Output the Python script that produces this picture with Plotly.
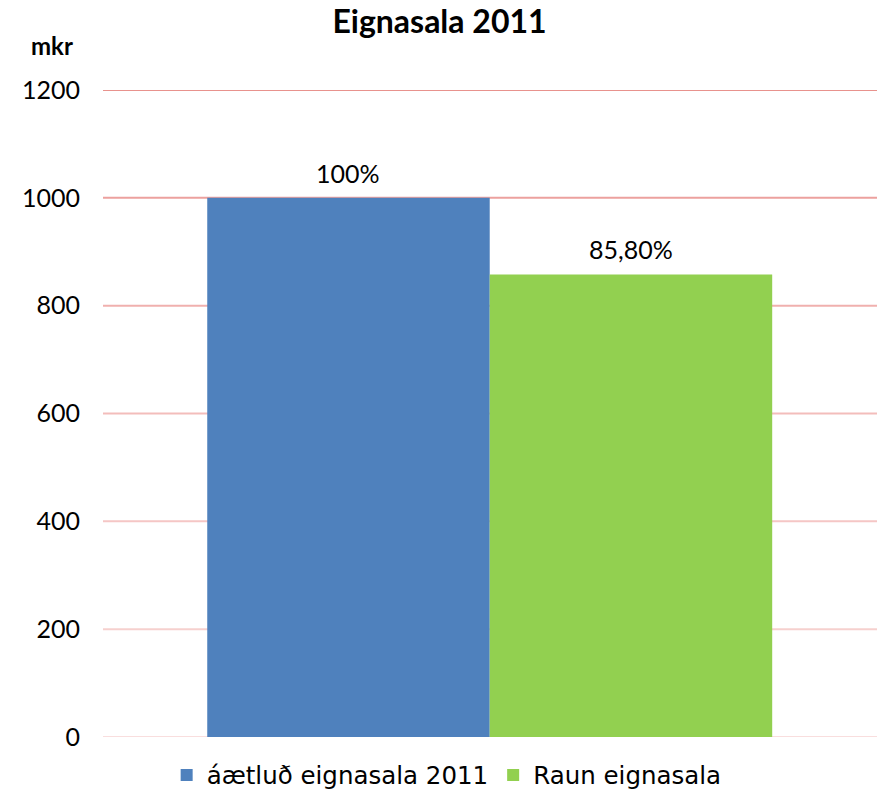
import plotly.graph_objects as go

title = "Eignasala 2011"
series_names = ["áætluð eignasala 2011", "Raun eignasala"]
values = [1000, 858]
labels = ["100%", "85,80%"]
colors = ["#4F81BD", "#92D050"]
tick_vals = [0, 200, 400, 600, 800, 1000, 1200]
grid_colors = ["#F9DEDE", "#F6D0CE", "#F5C6C5", "#F3BDBB", "#F0B0AE", "#ECA19E", "#E8928D"]

fig = go.Figure()
for name, v, c in zip(series_names, values, colors):
    fig.add_trace(go.Bar(
        x=[name], y=[v], name=name, width=1.0,
        marker=dict(color=c, line=dict(width=0)),
    ))

for name, v, lab in zip(series_names, values, labels):
    fig.add_annotation(x=name, y=v, text=lab, xref="x", yref="y", showarrow=False,
                       yanchor="middle", yshift=25,
                       font=dict(family="Lato, Carlito, sans-serif", size=25, color="#000000"))

for tv, gc in zip(tick_vals, grid_colors):
    fig.add_shape(type="line", xref="paper", yref="y", x0=0, x1=1, y0=tv, y1=tv,
                  line=dict(color=gc, width=2), layer="below")

fig.update_layout(
    width=879, height=803,
    margin=dict(l=103, r=2, t=90, b=66, autoexpand=False),
    paper_bgcolor="white", plot_bgcolor="white",
    barmode="overlay",
    title=dict(text="<b>" + title + "</b>", x=0.5, xanchor="center", y=0.973, yanchor="middle",
               font=dict(family="Lato, sans-serif", size=32, color="#000000")),
    xaxis=dict(showticklabels=False, showgrid=False, zeroline=False, showline=False,
               range=[-0.869, 1.871], automargin=False),
    yaxis=dict(range=[0, 1200], tickvals=tick_vals, showgrid=False, zeroline=False, showline=False,
               ticks="", ticklabelstandoff=22, automargin=False,
               tickfont=dict(family="Lato, sans-serif", size=25, color="#000000")),
    legend=dict(orientation="h", x=0.444, xanchor="center", y=-0.0587, yanchor="middle",
                font=dict(family="DejaVu Sans, Verdana, sans-serif", size=24.5, color="#000000"),
                traceorder="normal"),
    showlegend=True,
)
fig.add_annotation(text="<b>mkr</b>", xref="paper", yref="paper", x=-0.066, y=1.0695,
                   xanchor="center", yanchor="middle", showarrow=False,
                   font=dict(family="Lato, sans-serif", size=24, color="#000000"))

fig.write_html("out.html",
               config={"displayModeBar": False},
               post_script="document.body.style.margin='0px';document.body.style.overflow='hidden';")
